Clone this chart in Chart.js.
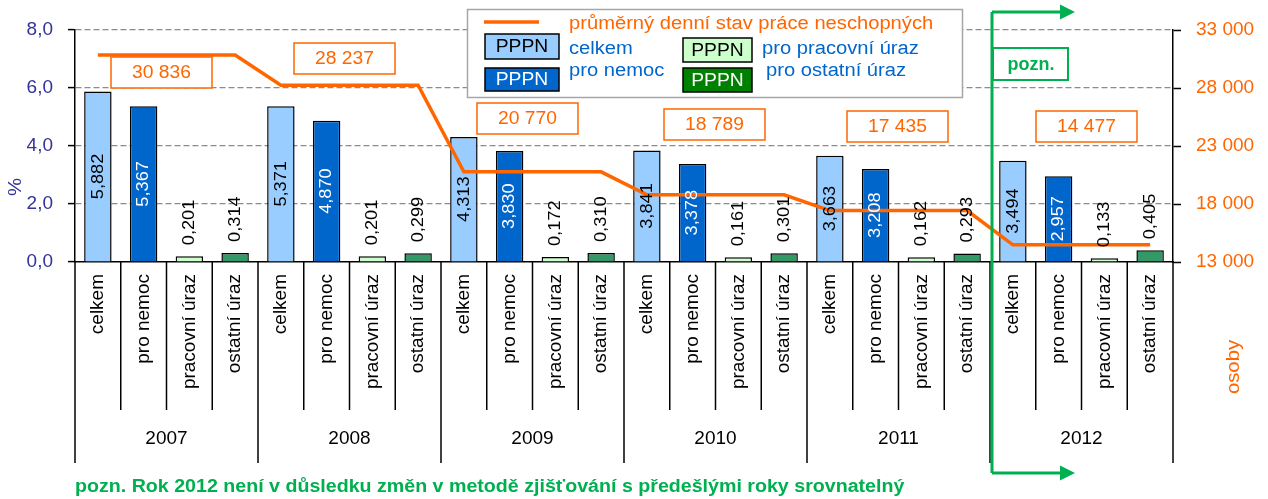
<!DOCTYPE html>
<html><head><meta charset="utf-8">
<script src="https://cdn.jsdelivr.net/npm/chart.js@4"></script>
<style>html,body{margin:0;padding:0;background:#fff}canvas{display:block}</style>
</head><body>
<canvas id="c" width="1268" height="499"></canvas>
<script>
const years = ['2007','2008','2009','2010','2011','2012'];
const categories = ['celkem','pro nemoc','pracovní úraz','ostatní úraz'];
const celkem = [5.882,5.371,4.313,3.841,3.663,3.494];
const proNemoc = [5.367,4.870,3.830,3.378,3.208,2.957];
const pracovniUraz = [0.201,0.201,0.172,0.161,0.162,0.133];
const ostatniUraz = [0.314,0.299,0.310,0.301,0.293,0.405];
const prumernyStav = [30836,28237,20770,18789,17435,14477];
const leftTicks = [0,2,4,6,8];
const rightTicks = [13000,18000,23000,28000,33000];

const FONT = '"Liberation Sans", Arial, sans-serif';
const ORANGE = '#ff6600', GREEN = '#00b050', BLUE_TXT = '#0066cc', AXIS_BLUE = '#333399';
const series = [celkem, proNemoc, pracovniUraz, ostatniUraz];
const barColorsBySeries = ['#99ccff','#0066cc','#ccffcc','#339966'];
const labelColorsBySeries = ['#000','#fff','#000','#000'];

const labels = [], barData = [], barColors = [], lineData = [];
years.forEach((y, yi) => {
  categories.forEach((c, ci) => {
    labels.push(c);
    barData.push(series[ci][yi]);
    barColors.push(barColorsBySeries[ci]);
    lineData.push(prumernyStav[yi]);
  });
});

const fmtThousands = v => String(v).replace(/\B(?=(\d{3})+(?!\d))/g, ' ');
const fmtDec = (v, d) => v.toFixed(d).replace('.', ',');

// annotation box placement (pixel offsets) for the yearly average values
const boxTop = [57, 43, 103, 109, 111, 111];
const boxDx = [-5, -5, -5, -1, -1, 5];

function text(ctx, s, x, y, o) {
  ctx.save();
  ctx.font = o.font || ('18px ' + FONT);
  ctx.fillStyle = o.color || '#000';
  ctx.textAlign = o.align || 'left';
  ctx.textBaseline = o.base || 'middle';
  ctx.translate(x, y);
  if (o.rot) ctx.rotate(o.rot);
  ctx.scale(o.sx || 1.07, 1);
  ctx.fillText(s, 0, 0);
  ctx.restore();
}
function rect(ctx, x, y, w, h, fill, stroke, lw) {
  ctx.save();
  if (fill) { ctx.fillStyle = fill; ctx.fillRect(x, y, w, h); }
  if (stroke) { ctx.strokeStyle = stroke; ctx.lineWidth = lw || 1; ctx.strokeRect(x, y, w, h); }
  ctx.restore();
}
function line(ctx, x1, y1, x2, y2, color, lw) {
  ctx.save();
  ctx.strokeStyle = color; ctx.lineWidth = lw; ctx.beginPath();
  ctx.moveTo(x1, y1); ctx.lineTo(x2, y2); ctx.stroke(); ctx.restore();
}
function arrowHead(ctx, x, y, color) {
  ctx.save(); ctx.fillStyle = color; ctx.beginPath();
  ctx.moveTo(x, y); ctx.lineTo(x - 15, y - 7.5); ctx.lineTo(x - 15, y + 7.5); ctx.closePath(); ctx.fill(); ctx.restore();
}

const deco = {
  id: 'deco',
  afterDatasetsDraw(chart) {
    const ctx = chart.ctx;
    const meta = chart.getDatasetMeta(0);
    meta.data.forEach((el, i) => {
      const ci = i % 4;
      const v = barData[i];
      const s = fmtDec(v, 3);
      const f = '17px ' + FONT;
      if (ci < 2) {
        text(ctx, s, el.x, (el.y + el.base) / 2, {font: f, color: labelColorsBySeries[ci], align: 'center', base: 'middle', rot: -Math.PI / 2});
      } else {
        text(ctx, s, el.x, el.y - 11, {font: f, color: '#000', align: 'left', base: 'middle', rot: -Math.PI / 2});
      }
    });
  },
  afterDraw(chart) {
    const ctx = chart.ctx;
    const xs = chart.scales.x, xy = chart.scales.xYear;
    const ca = chart.chartArea;
    const band = (xs.right - xs.left) / labels.length;
    // separators below x axis
    for (let i = 0; i <= labels.length; i++) {
      const px = xs.left + i * band;
      const yEnd = (i % 4 === 0) ? xy.bottom : xs.bottom;
      line(ctx, px, ca.bottom, px, yEnd, '#000', 1.5);
    }
    // yearly value boxes
    years.forEach((y, yi) => {
      const cx = xy.getPixelForValue(yi) + boxDx[yi];
      const w = 101, h = 31;
      rect(ctx, cx - w / 2, boxTop[yi], w, h, '#fff', ORANGE, 1.5);
      text(ctx, fmtThousands(prumernyStav[yi]), cx, boxTop[yi] + h / 2 + 1, {color: ORANGE, align: 'center'});
    });
    // legend
    rect(ctx, 467.5, 9.5, 495, 88, '#fff', '#a6a6a6', 1.5);
    line(ctx, 484, 22, 539, 22, ORANGE, 3.5);
    text(ctx, 'průměrný denní stav práce neschopných', 569, 24, {color: ORANGE, sx: 1.12});
    rect(ctx, 485, 34, 74, 25, '#99ccff', '#000', 1.5);
    text(ctx, 'PPPN', 522, 47, {color: '#000', align: 'center'});
    rect(ctx, 485, 68, 74, 23, '#0066cc', '#000', 1.5);
    text(ctx, 'PPPN', 522, 80, {color: '#fff', align: 'center'});
    rect(ctx, 683, 38, 69, 24, '#ccffcc', '#000', 1.5);
    text(ctx, 'PPPN', 717.5, 51, {color: '#000', align: 'center'});
    rect(ctx, 683, 68, 69, 24, '#008000', '#000', 1.5);
    text(ctx, 'PPPN', 717.5, 81, {color: '#fff', align: 'center'});
    text(ctx, 'celkem', 569, 49, {color: BLUE_TXT, sx: 1.12});
    text(ctx, 'pro nemoc', 569, 71, {color: BLUE_TXT, sx: 1.12});
    text(ctx, 'pro pracovní úraz', 762, 49, {color: BLUE_TXT, sx: 1.12});
    text(ctx, 'pro ostatní úraz', 766, 71, {color: BLUE_TXT, sx: 1.12});
    // axis titles
    text(ctx, '%', 16, 187, {font: '19px ' + FONT, color: AXIS_BLUE, align: 'center', rot: -Math.PI / 2});
    text(ctx, 'osoby', 1234, 367, {font: '19px ' + FONT, color: ORANGE, align: 'center', rot: -Math.PI / 2});
    // green note marker
    const gx = xs.left + 20 * band + 2;
    line(ctx, gx, 12, gx, 473, GREEN, 3);
    line(ctx, gx, 12, 1062, 12, GREEN, 3);
    line(ctx, gx, 473, 1062, 473, GREEN, 3);
    arrowHead(ctx, 1075, 12, GREEN);
    arrowHead(ctx, 1075, 473, GREEN);
    rect(ctx, gx + 1, 48, 75, 32, '#fff', GREEN, 2);
    text(ctx, 'pozn.', gx + 39, 65, {font: 'bold 18px ' + FONT, color: GREEN, align: 'center', sx: 1.0});
    // footnote
    text(ctx, 'pozn. Rok 2012 není v důsledku změn v metodě zjišťování s předešlými roky srovnatelný', 75, 487, {font: 'bold 18px ' + FONT, color: GREEN, sx: 1.09});
  }
};

new Chart(document.getElementById('c'), {
  data: {
    labels: labels,
    datasets: [
      {type: 'bar', label: 'PPPN', data: barData, backgroundColor: barColors, borderColor: '#000', borderWidth: 1.5,
       barPercentage: 0.6, categoryPercentage: 1, xAxisID: 'x', yAxisID: 'y', order: 2},
      {type: 'line', label: 'průměrný denní stav práce neschopných', data: lineData, borderColor: ORANGE, borderWidth: 3.5,
       pointRadius: 0, tension: 0, fill: false, xAxisID: 'x', yAxisID: 'y2', order: 1}
    ]
  },
  options: {
    responsive: false, animation: false,
    layout: {padding: {top: 30, bottom: 36, left: 0, right: 0}},
    plugins: {legend: {display: false}, tooltip: {enabled: false}},
    scales: {
      x: {type: 'category', offset: true, grid: {display: false}, border: {display: true, color: '#000', width: 1.5},
          ticks: {autoSkip: false, maxRotation: 90, minRotation: 90, padding: 4, color: '#000', font: {family: FONT, size: 19}},
          afterFit(s) { s.height = 148; }},
      xYear: {type: 'category', labels: years, offset: true, position: 'bottom', grid: {display: false}, border: {display: false},
          ticks: {padding: 9, color: '#000', font: {family: FONT, size: 19}},
          afterFit(s) { s.height = 53; }},
      y: {position: 'left', min: 0, max: 8,
          afterBuildTicks(s) { s.ticks = leftTicks.map(v => ({value: v})); },
          grid: {color: c => c.tick && c.tick.value === 0 ? 'rgba(0,0,0,0)' : '#8c8c8c', lineWidth: 1.2, tickLength: 7, tickColor: '#000', tickWidth: 1.5},
          border: {color: '#000', width: 1.5, dash: [6, 3]},
          ticks: {padding: 15, color: AXIS_BLUE, font: {family: FONT, size: 19}, callback: v => fmtDec(v, 1)},
          afterFit(s) { s.width = 75; }},
      y2: {position: 'right', min: 13000, max: 33000,
          afterBuildTicks(s) { s.ticks = rightTicks.map(v => ({value: v})); },
          grid: {drawOnChartArea: false, tickLength: 8, tickColor: '#000', tickWidth: 1.5},
          border: {color: '#000', width: 1.5},
          ticks: {padding: 15, color: ORANGE, font: {family: FONT, size: 19}, callback: v => fmtThousands(v)},
          afterFit(s) { s.width = 95; }}
    }
  },
  plugins: [deco]
});
</script>
</body></html>
